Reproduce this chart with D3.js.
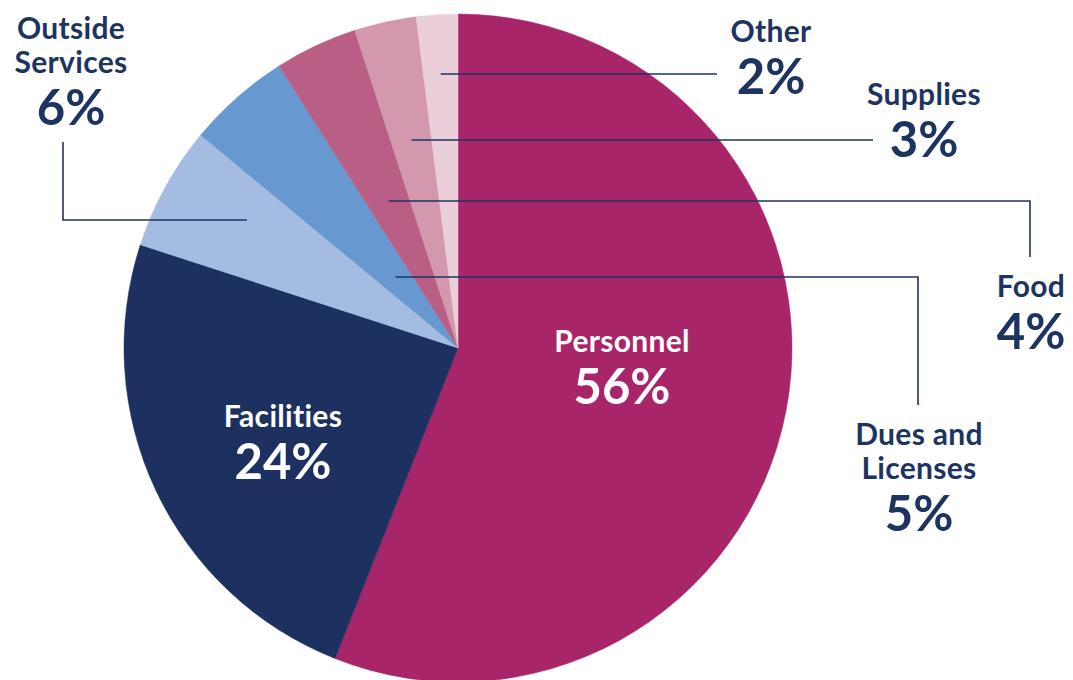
<!DOCTYPE html>
<html>
<head>
<meta charset="utf-8">
<script src="https://cdn.jsdelivr.net/npm/d3@7"></script>
<style>
  html, body { margin: 0; padding: 0; background: #fff; }
  svg { display: block; }
  text { font-variant-ligatures: none; }
</style>
</head>
<body>
<div id="chart"></div>
<script>
// Budget breakdown pie, clockwise from 12 o'clock
const categories = ["Personnel", "Facilities", "Outside Services", "Dues and Licenses", "Food", "Supplies", "Other"];
const values = [56, 24, 6, 5, 4, 3, 2];
const colors = ["#A9256A", "#1C3160", "#A4BBE2", "#6898D0", "#B95F86", "#D397AE", "#EACFDA"];

// label lines (text split per row) and where they sit
const labelLines = [
    ["Personnel"], ["Facilities"], ["Outside", "Services"], ["Dues and", "Licenses"],
    ["Food"], ["Supplies"], ["Other"]
];
const labelPos = [
    { x: 622, y: 352, inside: true },
    { x: 283, y: 427, inside: true },
    { x: 71, y: 39 },
    { x: 919, y: 445 },
    { x: 1031, y: 297 },
    { x: 924, y: 105 },
    { x: 771, y: 42 }
];
// leader lines: row y inside the slice, then the path to the label
const leaders = [
    null,
    null,
    { y: 220, pts: [[63, 220], [63, 142]], startX: 247 },
    { y: 277, pts: [[918, 277], [918, 405]] },
    { y: 201, pts: [[1030, 201], [1030, 257]] },
    { y: 140, pts: [[873, 140]] },
    { y: 74, pts: [[717, 74]] }
];

const width = 1073, height = 680;
const cx = 458, cy = 348, radius = 334;
const ink = "#1D3461";

const svg = d3.select("#chart").append("svg")
    .attr("width", width)
    .attr("height", height);

const data = categories.map((c, i) => ({ name: c, value: values[i], color: colors[i], i: i }));

const pie = d3.pie().value(d => d.value).sort(null);
const arc = d3.arc().innerRadius(0).outerRadius(radius);

const g = svg.append("g").attr("transform", `translate(${cx},${cy})`);
const arcs = pie(data);

g.selectAll("path.slice")
    .data(arcs)
    .enter()
    .append("path")
    .attr("class", "slice")
    .attr("d", arc)
    .attr("fill", d => d.data.color)
    .attr("stroke", d => d.data.color)
    .attr("stroke-width", 0.5);

// leader lines - start where the row crosses the slice's mid angle
arcs.forEach(a => {
    const L = leaders[a.data.i];
    if (!L) return;
    const mid = (a.startAngle + a.endAngle) / 2;
    const dy = L.y - cy;
    // point on the mid-angle ray at that height: x = -dy * tan(mid)
    const sx = L.startX !== undefined ? L.startX : cx + (-dy) * Math.tan(mid);
    const pts = [[sx, L.y]].concat(L.pts);
    svg.append("path")
        .attr("d", d3.line()(pts))
        .attr("fill", "none")
        .attr("stroke", ink)
        .attr("stroke-width", 1.6);
});

// labels
const font = "Lato, 'Open Sans', sans-serif";
arcs.forEach(a => {
    const p = labelPos[a.data.i];
    const lines = labelLines[a.data.i];
    const fill = p.inside ? "#ffffff" : ink;
    const t = svg.append("g").attr("transform", `translate(${p.x},${p.y})`);
    lines.forEach((ln, k) => {
        t.append("text")
            .attr("x", 0)
            .attr("y", k * 34)
            .attr("text-anchor", "middle")
            .style("font-family", font)
            .style("font-weight", 700)
            .style("font-size", "30px")
            .style("letter-spacing", "0.3px")
            .style("fill", fill)
            .text(ln);
    });
    t.append("text")
        .attr("x", 0)
        .attr("y", (lines.length - 1) * 34 + 52)
        .attr("text-anchor", "middle")
        .style("font-family", font)
        .style("font-weight", 700)
        .style("font-size", "49px")
        .style("fill", fill)
        .text(a.data.value + "%");
});
</script>
</body>
</html>
